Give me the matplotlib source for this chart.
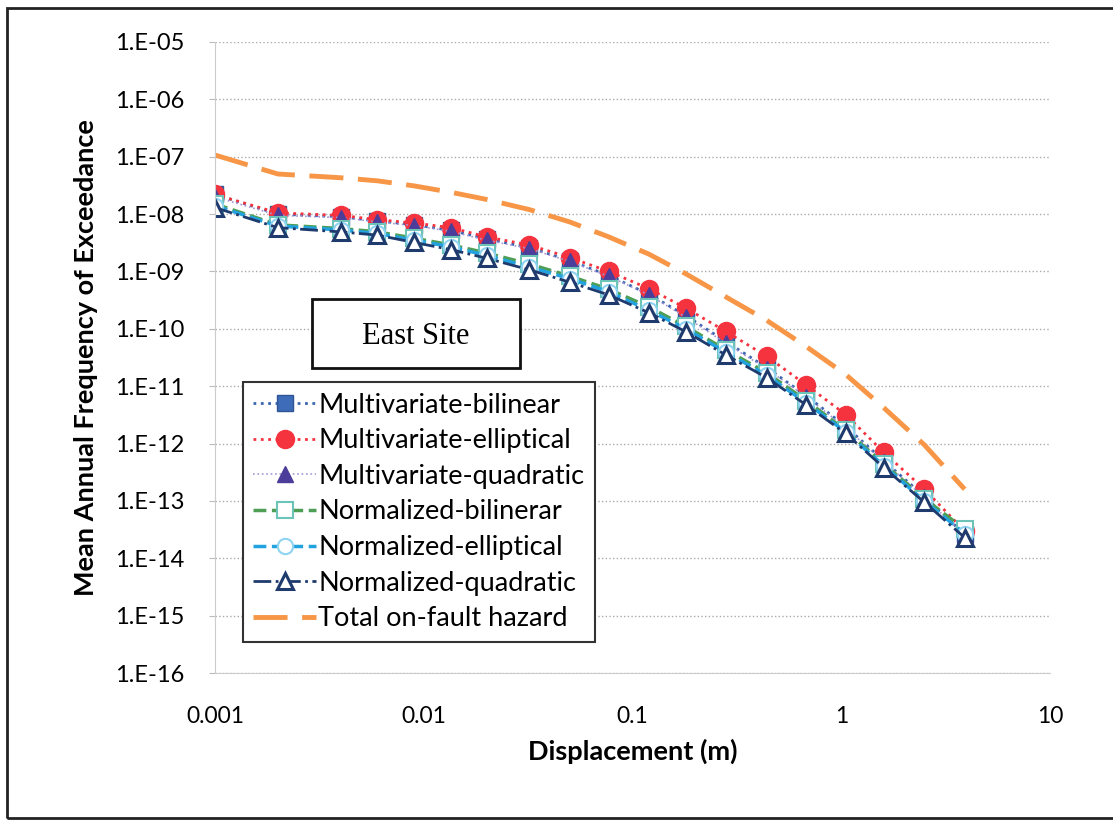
import matplotlib
matplotlib.use("Agg")
import matplotlib.pyplot as plt
import numpy as np
from matplotlib.patches import Rectangle

# displacement (m) at which hazard was computed
disp = [0.001, 0.002, 0.004, 0.006, 0.009, 0.0135, 0.02, 0.032, 0.05, 0.077,
        0.12, 0.18, 0.28, 0.44, 0.68, 1.05, 1.6, 2.5, 3.9]

mv_bilinear = [2.2e-8, 1.0e-8, 9.0e-9, 7.6e-9, 6.5e-9, 5.2e-9, 3.7e-9, 2.6e-9, 1.55e-9, 8.5e-10,
               4.0e-10, 1.7e-10, 6.0e-11, 2.1e-11, 6.8e-12, 2.0e-12, 5.0e-13, 1.2e-13, 2.6e-14]
mv_elliptical = [2.2e-8, 1.05e-8, 9.5e-9, 8.0e-9, 7.0e-9, 5.8e-9, 4.0e-9, 2.9e-9, 1.75e-9, 1.0e-9,
                 5.0e-10, 2.3e-10, 9.0e-11, 3.3e-11, 1.05e-11, 3.2e-12, 7.0e-13, 1.6e-13, 3.0e-14]
mv_quadratic = [2.0e-8, 9.5e-9, 8.7e-9, 7.3e-9, 6.3e-9, 5.0e-9, 3.5e-9, 2.5e-9, 1.5e-9, 8.2e-10,
                3.9e-10, 1.6e-10, 5.6e-11, 2.0e-11, 6.5e-12, 1.9e-12, 4.8e-13, 1.15e-13, 2.5e-14]
nm_bilinear = [1.5e-8, 6.5e-9, 5.6e-9, 4.9e-9, 3.8e-9, 2.9e-9, 2.1e-9, 1.35e-9, 8.3e-10, 4.9e-10,
               2.4e-10, 1.1e-10, 4.3e-11, 1.7e-11, 5.6e-12, 1.7e-12, 4.4e-13, 1.1e-13, 3.2e-14]
nm_elliptical = [1.4e-8, 6.2e-9, 5.3e-9, 4.6e-9, 3.5e-9, 2.7e-9, 1.9e-9, 1.2e-9, 7.5e-10, 4.4e-10,
                 2.1e-10, 1.0e-10, 3.9e-11, 1.55e-11, 5.1e-12, 1.6e-12, 4.1e-13, 1.0e-13, 2.7e-14]
nm_quadratic = [1.3e-8, 5.8e-9, 4.9e-9, 4.3e-9, 3.2e-9, 2.4e-9, 1.7e-9, 1.07e-9, 6.5e-10, 3.9e-10,
                1.9e-10, 8.9e-11, 3.5e-11, 1.4e-11, 4.7e-12, 1.5e-12, 3.8e-13, 9.5e-14, 2.3e-14]
total_onfault = [1.07e-7, 5.0e-8, 4.3e-8, 3.8e-8, 3.1e-8, 2.4e-8, 1.8e-8, 1.2e-8, 7.3e-9, 4.0e-9,
                 2.0e-9, 9.1e-10, 3.6e-10, 1.4e-10, 4.9e-11, 1.6e-11, 4.2e-12, 9.5e-13, 1.6e-13]

xticks = [0.001, 0.01, 0.1, 1, 10]
xticklabels = ["0.001", "0.01", "0.1", "1", "10"]
yticks = [1e-16, 1e-15, 1e-14, 1e-13, 1e-12, 1e-11, 1e-10, 1e-9, 1e-8, 1e-7, 1e-6, 1e-5]
yticklabels = ["1.E-16", "1.E-15", "1.E-14", "1.E-13", "1.E-12", "1.E-11", "1.E-10",
               "1.E-09", "1.E-08", "1.E-07", "1.E-06", "1.E-05"]

plt.rcParams['font.family'] = ['Lato', 'DejaVu Sans']

fig = plt.figure(figsize=(11.13, 8.25), dpi=100)
ax = fig.add_axes([0.1932, 0.1842, 0.7502, 0.7649])

ax.plot(disp, mv_bilinear, ls=':', lw=2, color='#3A66B0', marker='s', ms=12,
        mfc='#3F6CB8', mec='#2F5596', label='Multivariate-bilinear')
ax.plot(disp, mv_elliptical, ls=':', lw=2, color='#F5333F', marker='o', ms=13,
        mfc='#F5333F', mec='#F5333F', label='Multivariate-elliptical')
ax.plot(disp, mv_quadratic, ls=':', lw=1.2, color='#A796D6', marker='^', ms=11,
        mfc='#4B3D99', mec='#4B3D99', label='Multivariate-quadratic')
ax.plot(disp, nm_bilinear, ls='--', lw=2.5, color='#4E9E55', marker='s', ms=11,
        mfc='white', mec='#6CC3B8', mew=1.5, label='Normalized-bilinerar')
ax.plot(disp, nm_elliptical, ls='--', lw=2.5, color='#22A3E0', marker='o', ms=11,
        mfc='white', mec='#8ED3F2', mew=1.5, label='Normalized-elliptical')
ax.plot(disp, nm_quadratic, ls='-.', lw=2, color='#1F3B6E', marker='^', ms=11,
        mfc='white', mec='#1F3B6E', mew=2.2, label='Normalized-quadratic')
ax.plot(disp, total_onfault, ls=(0, (7, 3)), lw=3.5, color='#F79646',
        label='Total on-fault hazard')

ax.set_xscale('log')
ax.set_yscale('log')
ax.set_xlim(1e-3, 10)
ax.set_ylim(1e-16, 1e-5)
ax.set_xticks(xticks)
ax.set_xticklabels(xticklabels)
ax.set_yticks(yticks)
ax.set_yticklabels(yticklabels)
ax.minorticks_off()
ax.tick_params(axis='y', length=4, color='#BBBBBB', pad=18, labelsize=17)
ax.tick_params(axis='x', length=0, pad=24, labelsize=16.5)
ax.grid(axis='y', ls=':', color='#AAAAAA', lw=1)
for s in ['top', 'right']:
    ax.spines[s].set_visible(False)
ax.spines['left'].set_color('#CCCCCC')
ax.spines['bottom'].set_color('#CCCCCC')

ax.set_xlabel('Displacement (m)', fontsize=19.5, fontweight='bold', labelpad=8)
ax.set_ylabel('Mean Annual Frequency of Exceedance', fontsize=19.5, fontweight='bold', labelpad=12)

leg = ax.legend(loc='upper left', bbox_to_anchor=(0.218, 0.537), bbox_transform=fig.transFigure,
                borderaxespad=0, fontsize=19.5, handlelength=2.3, handletextpad=0.1,
                labelspacing=0.39, fancybox=False, framealpha=1, borderpad=0.4)
leg.get_frame().set_edgecolor('#333333')
leg.get_frame().set_linewidth(1.5)

# East Site label box
fig.patches.append(Rectangle((0.2803, 0.5539), 0.1869, 0.0836, transform=fig.transFigure,
                             fill=True, facecolor='white', edgecolor='#111111', lw=2, zorder=5))
fig.text(0.3738, 0.5927, 'East Site', ha='center', va='center', fontsize=22,
         family='Liberation Serif', zorder=6)

# outer chart border
fig.patches.append(Rectangle((0.0063, 0.0085), 1.0, 0.982, transform=fig.transFigure,
                             fill=False, edgecolor='#222222', lw=2))

fig.savefig('out.png', dpi=100)
plt.close(fig)
